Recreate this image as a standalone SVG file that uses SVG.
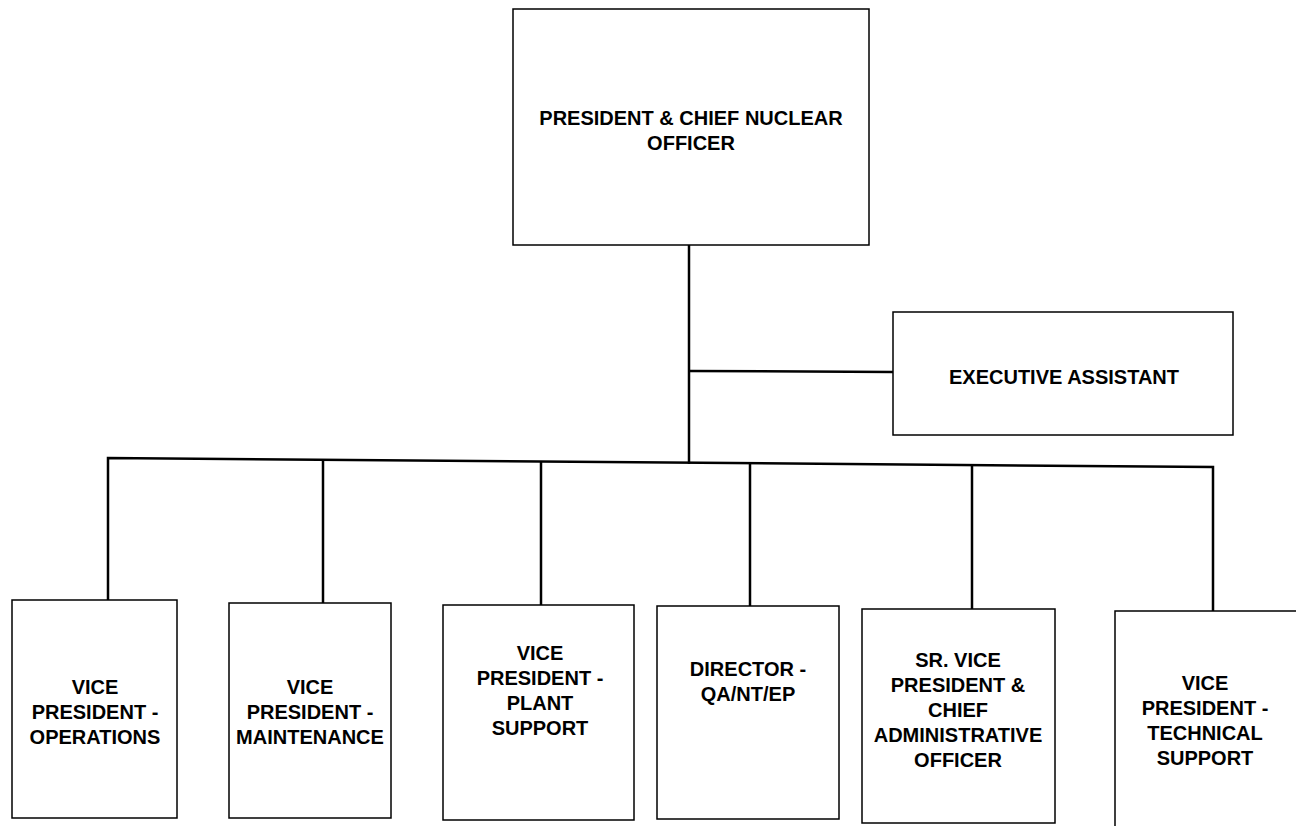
<svg xmlns="http://www.w3.org/2000/svg" width="1296" height="826" viewBox="0 0 1296 826">
  <style>
    .box { fill: #fff; stroke: #000; stroke-width: 1.5; }
    .wire { stroke: #000; stroke-width: 2.5; fill: none; }
    .lbl { font-family: "Liberation Sans", Arial, sans-serif; font-weight: bold; font-size: 20px; text-anchor: middle; fill: #000; }
  </style>
  <rect width="1296" height="826" fill="#fff"/>

  <g id="connectors">
    <line class="wire" x1="689" y1="245" x2="689" y2="464"/>
    <line class="wire" x1="689" y1="371" x2="893" y2="372"/>
    <polyline class="wire" points="108,600 108,458 1213,467 1213,611"/>
    <line class="wire" x1="323" y1="460" x2="323" y2="603"/>
    <line class="wire" x1="541" y1="462" x2="541" y2="605"/>
    <line class="wire" x1="750" y1="464" x2="750" y2="606"/>
    <line class="wire" x1="972" y1="465" x2="972" y2="609"/>
  </g>

  <g id="president">
    <rect class="box" x="513" y="9" width="356" height="236"/>
    <text class="lbl" x="691" y="125">PRESIDENT &amp; CHIEF NUCLEAR</text>
    <text class="lbl" x="691" y="150">OFFICER</text>
  </g>

  <g id="executive-assistant">
    <rect class="box" x="893" y="312" width="340" height="123"/>
    <text class="lbl" x="1064" y="384">EXECUTIVE ASSISTANT</text>
  </g>

  <g id="vp-operations">
    <rect class="box" x="12" y="600" width="165" height="218"/>
    <text class="lbl" x="95" y="694">VICE</text>
    <text class="lbl" x="95" y="719">PRESIDENT -</text>
    <text class="lbl" x="95" y="744">OPERATIONS</text>
  </g>

  <g id="vp-maintenance">
    <rect class="box" x="229" y="603" width="162" height="215"/>
    <text class="lbl" x="310" y="694">VICE</text>
    <text class="lbl" x="310" y="719">PRESIDENT -</text>
    <text class="lbl" x="310" y="744">MAINTENANCE</text>
  </g>

  <g id="vp-plant-support">
    <rect class="box" x="443" y="605" width="191" height="215"/>
    <text class="lbl" x="540" y="660">VICE</text>
    <text class="lbl" x="540" y="685">PRESIDENT -</text>
    <text class="lbl" x="540" y="710">PLANT</text>
    <text class="lbl" x="540" y="735">SUPPORT</text>
  </g>

  <g id="director-qa">
    <rect class="box" x="657" y="606" width="182" height="213"/>
    <text class="lbl" x="748" y="676">DIRECTOR -</text>
    <text class="lbl" x="748" y="701">QA/NT/EP</text>
  </g>

  <g id="svp-cao">
    <rect class="box" x="862" y="609" width="193" height="214"/>
    <text class="lbl" x="958" y="667">SR. VICE</text>
    <text class="lbl" x="958" y="692">PRESIDENT &amp;</text>
    <text class="lbl" x="958" y="717">CHIEF</text>
    <text class="lbl" x="958" y="742">ADMINISTRATIVE</text>
    <text class="lbl" x="958" y="767">OFFICER</text>
  </g>

  <g id="vp-technical-support">
    <rect class="box" x="1115" y="611" width="190" height="225"/>
    <text class="lbl" x="1205" y="690">VICE</text>
    <text class="lbl" x="1205" y="715">PRESIDENT -</text>
    <text class="lbl" x="1205" y="740">TECHNICAL</text>
    <text class="lbl" x="1205" y="765">SUPPORT</text>
  </g>
</svg>
